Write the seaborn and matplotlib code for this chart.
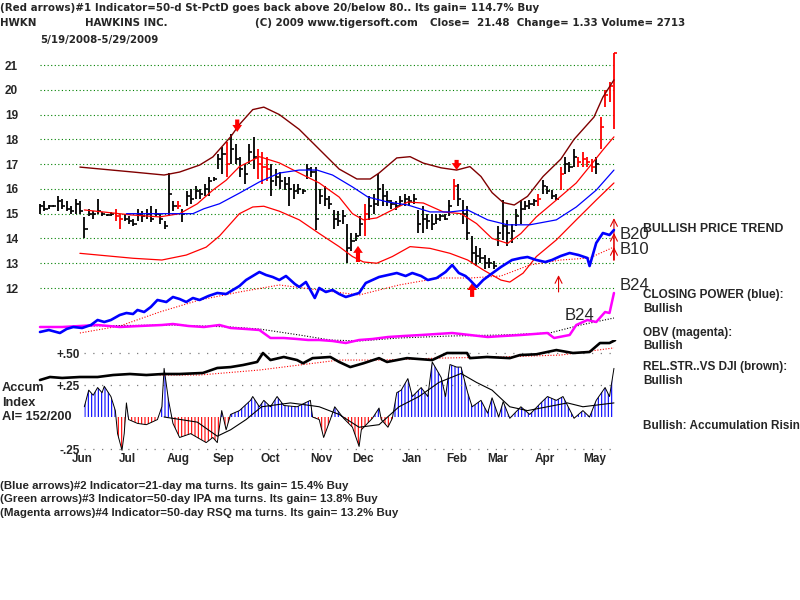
import numpy as np
import matplotlib
matplotlib.use("Agg")
import matplotlib.pyplot as plt
import seaborn as sns

# ---- data (x = trading day since 5/19/2008) ----
bar_high = [15.4, 15.5, 15.35, 15.35, 15.7, 15.6, 15.5, 15.3, 15.6, 15.5,
            14.85, 15.2, 15.1, 15.6, 15.05, 15.0, 15.05, 15.2, 15.0, 15.0,
            14.9, 14.8, 15.2, 15.1, 15.2, 15.3, 15.2, 15.0, 14.7, 16.65,
            15.5, 15.5, 15.2, 15.9, 16.0, 16.1, 16.0, 16.2, 16.5, 16.5,
            17.4, 17.7, 17.9, 18.2, 17.8, 17.3, 17.0, 17.8, 18.1, 17.6,
            17.5, 17.3, 17.0, 16.8, 16.7, 16.5, 16.5, 16.2, 16.2, 16.0,
            17.0, 16.9, 16.9, 16.0, 16.1, 15.7, 15.15, 15.1, 15.15, 14.6,
            14.2, 14.2, 14.9, 15.4, 15.7, 15.8, 16.6, 16.2, 15.9, 15.55,
            15.5, 15.7, 15.8, 15.7, 15.8, 15.15, 15.3, 15.0, 15.0, 15.0,
            15.0, 15.0, 15.55, 16.4, 16.2, 15.55, 15.3, 14.1, 13.7, 13.6,
            13.35, 13.2, 13.1, 14.5, 15.55, 14.75, 14.6, 15.2, 15.55, 15.5,
            15.55, 15.6, 15.8, 16.35, 16.1, 15.95, 15.8, 16.9, 17.3, 17.1,
            17.6, 17.3, 17.5, 17.3, 17.2, 17.3, 18.9, 20.0, 20.3, 21.5]
bar_low = [15.0, 15.1, 15.2, 15.25, 15.1, 15.2, 15.1, 15.0, 15.0, 15.0,
           14.0, 14.9, 14.8, 15.0, 14.9, 14.9, 14.9, 14.7, 14.4, 14.7,
           14.6, 14.5, 14.7, 14.65, 14.8, 14.65, 14.9, 14.6, 14.4, 14.9,
           15.1, 15.2, 14.65, 15.3, 15.4, 15.6, 15.6, 15.7, 15.7, 16.3,
           16.8, 16.6, 16.5, 17.0, 17.0, 16.5, 16.2, 17.0, 16.8, 16.4,
           16.2, 16.3, 15.7, 16.1, 16.0, 15.95, 15.3, 15.6, 15.8, 15.8,
           16.4, 16.5, 14.35, 15.4, 15.3, 15.2, 14.4, 14.5, 14.6, 13.0,
           13.5, 13.9, 14.1, 14.1, 14.75, 15.0, 15.3, 15.3, 15.3, 15.2,
           15.15, 15.3, 15.3, 15.3, 15.4, 14.2, 14.2, 14.4, 14.35, 14.6,
           14.7, 14.75, 14.9, 15.55, 15.3, 14.6, 13.95, 13.0, 12.9, 13.0,
           12.75, 12.8, 12.75, 13.7, 13.95, 13.7, 13.8, 14.5, 14.6, 15.15,
           15.2, 15.3, 15.3, 15.8, 15.8, 15.6, 15.55, 15.95, 16.6, 16.7,
           16.9, 16.9, 16.9, 16.9, 16.7, 16.6, 17.6, 19.3, 19.5, 18.4]
bar_close = [15.3, 15.2, 15.3, 15.3, 15.5, 15.3, 15.2, 15.1, 15.4, 15.1,
             14.4, 15.0, 15.0, 15.1, 15.0, 14.95, 15.0, 14.9, 14.8, 14.8,
             14.7, 14.6, 15.0, 14.9, 15.0, 14.8, 15.0, 14.8, 14.5, 15.8,
             15.3, 15.3, 15.0, 15.7, 15.6, 15.9, 15.8, 16.0, 16.3, 16.4,
             17.2, 17.4, 17.0, 17.6, 17.2, 16.8, 16.6, 17.5, 17.3, 17.0,
             16.9, 16.8, 16.3, 16.5, 16.3, 16.2, 16.0, 15.9, 16.0, 15.9,
             16.8, 16.7, 14.8, 15.7, 15.6, 15.4, 14.8, 14.7, 14.9, 13.6,
             13.9, 14.1, 14.6, 15.0, 15.3, 15.4, 16.0, 15.7, 15.5, 15.4,
             15.3, 15.5, 15.6, 15.5, 15.6, 14.6, 14.8, 14.7, 14.6, 14.8,
             14.9, 14.8, 15.3, 16.1, 15.6, 15.0, 14.2, 13.4, 13.3, 13.2,
             13.0, 13.0, 12.9, 14.2, 14.5, 14.2, 14.3, 14.9, 15.2, 15.3,
             15.4, 15.5, 15.6, 16.1, 15.9, 15.7, 15.6, 16.6, 17.0, 16.9,
             17.3, 17.1, 17.2, 17.1, 16.9, 17.0, 18.5, 19.8, 20.15, 21.48]
red_bars = [17, 18, 31, 42, 49, 50, 51, 73, 93, 112, 117,
            121, 122, 123, 124, 126, 127, 128, 129]

upper_days = [18, 42, 56, 63, 72, 78, 86, 90, 96, 101, 108, 117, 126, 135, 143, 149, 153,
              161, 167, 173, 181, 188, 194, 199, 204, 209, 214, 220, 227, 235, 241, 250, 254, 259]
upper_vals = [16.88, 16.68, 16.56, 16.68, 16.96, 17.29, 18.1, 18.6, 19.2, 19.3, 19.0, 18.4, 17.6,
              16.8, 16.4, 16.4, 16.64, 17.25, 17.3, 17.04, 16.85, 16.76, 16.9, 16.5, 15.85, 15.45,
              15.35, 15.7, 16.5, 17.2, 18.0, 18.9, 19.7, 20.4]
mid_days = [20, 41, 54, 63, 71, 78, 84, 90, 99, 108, 117, 126, 135, 141, 146, 152, 159, 166,
            173, 182, 190, 197, 204, 211, 217, 224, 233, 242, 248, 254, 259]
mid_vals = [15.15, 14.95, 14.87, 15.0, 15.4, 15.95, 16.35, 16.9, 17.3, 17.05, 16.64, 16.24, 15.67,
            15.0, 14.75, 14.83, 15.15, 15.47, 15.43, 15.07, 15.0, 14.6, 14.0, 13.8, 14.2, 14.87,
            15.55, 16.24, 16.9, 17.57, 18.1]
low_days = [18, 42, 55, 66, 75, 81, 86, 90, 96, 101, 108, 117, 126, 135, 141, 146, 152, 159,
            167, 176, 185, 193, 200, 208, 212, 218, 224, 233, 242, 251, 259]
low_vals = [13.4, 13.2, 13.13, 13.33, 13.65, 14.1, 14.6, 15.0, 15.27, 15.3, 15.1, 14.75, 14.2,
            13.67, 13.27, 13.05, 13.0, 13.27, 13.67, 13.6, 13.4, 13.13, 12.73, 12.32, 12.24, 12.6,
            13.27, 13.94, 14.75, 15.55, 16.24]
ma50_days = [39, 69, 74, 81, 90, 99, 108, 117, 125, 132, 141, 148, 157, 166, 176, 185, 193,
             202, 211, 221, 233, 242, 251, 259]
ma50_vals = [15.0, 15.0, 15.2, 15.4, 15.83, 16.28, 16.64, 16.76, 16.76, 16.56, 16.08, 15.67,
             15.47, 15.35, 15.07, 15.07, 15.15, 14.75, 14.55, 14.55, 14.75, 15.27, 15.95, 16.76]

cp_days = [0, 4, 9, 12, 15, 19, 23, 26, 29, 32, 36, 39, 42, 44, 47, 50, 53, 57, 60, 63,
           66, 69, 72, 76, 80, 84, 87, 90, 93, 96, 99, 102, 105, 108, 111, 113, 115, 117, 120, 122,
           124, 126, 129, 132, 135, 138, 141, 144, 147, 150, 153, 157, 161, 165, 168, 172, 175, 179,
           183, 186, 189, 192, 194, 197, 200, 203, 208, 213, 217, 220, 224, 228, 231, 235, 239, 243,
           247, 248, 251, 254, 257, 259]
cp_vals = [18, 20, 17, 21, 23, 22, 25, 30, 28, 30, 35, 37, 36, 40, 38, 43, 50, 48, 53, 51,
           48, 52, 50, 54, 57, 56, 60, 64, 70, 74, 78, 75, 73, 70, 74, 70, 66, 63, 68, 60,
           52, 62, 58, 60, 56, 53, 55, 57, 67, 70, 73, 75, 77, 74, 77, 74, 70, 72,
           78, 85, 77, 74, 70, 63, 70, 75, 83, 90, 92, 93, 90, 88, 90, 94, 97, 95,
           92, 84, 107, 117, 115, 120]
cp_ma_days = [18, 36, 54, 72, 90, 108, 126, 144, 162, 180, 194, 208, 221, 235, 248, 259]
cp_ma_vals = [17, 24, 38, 50, 58, 65, 60, 55, 65, 72, 72, 74, 85, 90, 92, 103]

obv_days = [0, 10, 18, 26, 36, 45, 55, 60, 67, 74, 81, 86, 93, 99, 104, 110, 116, 121, 126, 132,
            138, 144, 150, 157, 164, 172, 179, 186, 194, 202, 209, 217, 223, 229, 232, 239, 242,
            247, 251, 255, 257, 259]
obv_vals = [23, 23, 24, 25, 23, 24, 25, 26, 24, 23, 25, 22, 21, 20, 12, 12, 11, 10, 10, 9,
            7, 10, 11, 13, 14, 15, 16, 17, 15, 13, 14, 15, 16, 17, 12, 15, 25, 30, 28, 38, 37, 57]
obv_ma_days = [18, 60, 86, 99, 117, 131, 144, 162, 185, 208, 230, 244, 259]
obv_ma_vals = [24, 25, 23, 21, 15, 10, 9, 12, 14, 15, 17, 25, 32]

rs_days = [0, 4.5, 10, 18, 26, 33, 40.6, 48, 55.5, 63, 73.5, 80, 86, 91.6, 98, 100.6, 104, 110,
           116, 118.7, 123, 131, 135, 140, 146, 153, 156.6, 165.6, 177, 183.7, 192.7, 194, 201.7,
           212, 216.6, 224, 233, 240.5, 248, 252.7, 257, 259.5]
rs_vals = [0.289, 0.3125, 0.305, 0.3125, 0.3125, 0.328, 0.336, 0.328, 0.336, 0.336, 0.344, 0.383,
           0.39, 0.406, 0.43, 0.5, 0.445, 0.469, 0.445, 0.42, 0.46, 0.469, 0.43, 0.39, 0.42, 0.46,
           0.43, 0.46, 0.445, 0.5, 0.5, 0.46, 0.469, 0.46, 0.484, 0.49, 0.523, 0.5, 0.508, 0.578,
           0.578, 0.6]
rs_ma_days = [54, 72, 99, 117, 135, 153, 180, 208, 235, 259]
rs_ma_vals = [0.328, 0.328, 0.367, 0.406, 0.445, 0.445, 0.46, 0.469, 0.484, 0.54]

ai_days = [20, 22, 24, 26, 28, 29, 32, 34, 35, 37, 38, 39, 40, 44, 48, 53, 55, 56, 58, 60,
           63, 68, 71, 75, 78, 80, 82, 84, 86, 90, 95, 96, 99, 101, 104, 107, 110, 116, 122, 123,
           126, 128, 131, 133, 137, 141, 144, 145, 150, 153, 154, 157, 159, 161, 163, 166, 168, 172,
           175, 177, 181, 183, 185, 188, 190, 193, 195, 199, 202, 204, 207, 209, 212, 217, 221, 226,
           229, 233, 236, 241, 245, 248, 251, 255, 257, 259]
ai_vals = [0.08, 0.21, 0.17, 0.23, 0.19, 0.24, 0.16, 0.05, -0.13, -0.26, -0.13, 0.11, -0.02, -0.05,
           -0.06, -0.02, 0.08, 0.38, 0.13, -0.05, -0.16, -0.13, -0.16, -0.2, -0.16, -0.2, 0.05, -0.1,
           0.02, 0.05, 0.13, 0.16, 0.08, 0.13, 0.08, 0.16, 0.09, 0.08, 0.13, 0.0, -0.02, -0.16, -0.02,
           0.08, -0.01, -0.08, -0.23, -0.1, -0.01, 0.07, -0.02, -0.08, -0.01, 0.19, 0.21, 0.3, 0.16,
           0.23, 0.16, 0.43, 0.31, 0.16, 0.41, 0.39, 0.39, 0.19, 0.08, 0.13, 0.03, 0.15, 0.0, 0.12,
           -0.01, 0.08, 0.02, 0.11, 0.16, 0.13, 0.16, -0.01, 0.05, 0.0, 0.13, 0.23, 0.16, 0.38]
aima_days = [56, 71, 80, 86, 93, 100, 113, 122, 126, 135, 144, 153, 162, 171, 180, 190, 197,
             204, 212, 220, 229, 238, 245, 259]
aima_vals = [0.0, -0.04, -0.15, -0.10, -0.02, 0.08, 0.11, 0.09, 0.08, 0.02, -0.08, -0.06, 0.08,
             0.16, 0.27, 0.34, 0.27, 0.21, 0.08, 0.05, 0.08, 0.11, 0.08, 0.11]

# signal arrows: day, start price, tip price
big_arrow_day = [89, 143.5, 188, 195]
big_arrow_from = [18.8, 13.05, 17.17, 11.64]
big_arrow_to = [18.3, 13.7, 16.76, 12.2]
thin_arrow_day = [234, 259, 259, 259]
thin_arrow_from = [11.84, 13.13, 13.13, 13.13]
thin_arrow_to = [12.52, 14.82, 14.22, 13.65]

price_ticks = [12, 13, 14, 15, 16, 17, 18, 19, 20, 21]
ai_ticks = [0.5, 0.25, -0.25]
ai_tick_labels = ["+.50", "+.25", "-.25"]
month_names = ["Jun", "Jul", "Aug", "Sep", "Oct", "Nov", "Dec", "Jan", "Feb", "Mar", "Apr", "May"]
month_days = [19, 39.3, 62.3, 83, 103.8, 127, 146, 168, 188, 206.7, 228, 250.5]

# ---- figure ----
sns.set_style("white")
plt.rcParams["font.family"] = ["Liberation Sans", "DejaVu Sans"]
plt.rcParams["hatch.linewidth"] = 0.8

fig = plt.figure(figsize=(8, 6), dpi=100)
XL = (-4.51, 261.73)
LEFT, WIDTH = 30 / 800, 590 / 800

ax = fig.add_axes([LEFT, 0.5, WIDTH, 260 / 600])
ax3 = fig.add_axes([LEFT, 148 / 600, WIDTH, 112 / 600])
ax2 = fig.add_axes([LEFT, 250 / 600, WIDTH, 130 / 600])
for a in (ax, ax2, ax3):
    a.set_xlim(*XL)
    a.patch.set_alpha(0)
    sns.despine(ax=a, left=True, bottom=True)
ax.set_ylim(11.516, 22.009)
ax2.set_ylim(0, 130)
ax3.set_ylim(-0.2734, 0.6016)

# price panel
ax.hlines(price_ticks, 0, upper_days[-1], colors="#008000", linestyles=(0, (1, 2.2)), lw=0.8)
n = len(bar_high)
bar_days = np.linspace(0, 259, n)
bar_colors = ["#ff0000" if i in red_bars else "black" for i in range(n)]
ax.vlines(bar_days, bar_low, bar_high, colors=bar_colors, lw=1.3)
ax.hlines(bar_close, bar_days, bar_days + 1.4, colors=bar_colors, lw=1.2)

sns.lineplot(x=upper_days, y=upper_vals, ax=ax, color="#800000", lw=1.0, sort=False, estimator=None)
sns.lineplot(x=mid_days, y=mid_vals, ax=ax, color="#ff0000", lw=0.9, sort=False, estimator=None)
sns.lineplot(x=low_days, y=low_vals, ax=ax, color="#ff0000", lw=0.9, sort=False, estimator=None)
sns.lineplot(x=ma50_days, y=ma50_vals, ax=ax, color="#0000ff", lw=0.9, sort=False, estimator=None)

for d, y0, y1 in zip(big_arrow_day, big_arrow_from, big_arrow_to):
    ax.annotate("", xy=(d, y1), xytext=(d, y0),
                arrowprops=dict(arrowstyle="simple,head_width=0.7,head_length=0.5,tail_width=0.3",
                                color="#ff0000", lw=0, shrinkA=0, shrinkB=0))
for d, y0, y1 in zip(thin_arrow_day, thin_arrow_from, thin_arrow_to):
    ax.annotate("", xy=(d, y1), xytext=(d, y0),
                arrowprops=dict(arrowstyle="->,head_width=0.25,head_length=0.5",
                                color="#e00000", lw=0.8, shrinkA=0, shrinkB=0))

ax.set_xticks([])
ax.set_yticks(price_ticks, [str(t) for t in price_ticks])
ax.tick_params(axis="y", length=0, pad=8.6, labelsize=8.5)
for lab in ax.get_yticklabels():
    lab.set_fontweight("bold")

# closing power / OBV
sns.lineplot(x=cp_ma_days, y=cp_ma_vals, ax=ax2, color="#ff0000", lw=0.8,
             linestyle=(0, (1, 1.5)), sort=False, estimator=None)
sns.lineplot(x=obv_ma_days, y=obv_ma_vals, ax=ax2, color="black", lw=0.8,
             linestyle=(0, (1, 1.5)), sort=False, estimator=None)
sns.lineplot(x=obv_days, y=obv_vals, ax=ax2, color="#ff00ff", lw=1.8, sort=False, estimator=None)
sns.lineplot(x=cp_days, y=cp_vals, ax=ax2, color="#0000ff", lw=1.9, sort=False, estimator=None)
ax2.set_xticks([])
ax2.set_yticks([])

# accumulation index + relative strength
ax3.hlines(ai_ticks, ai_days[0], ai_days[-1], colors="#7a7a7a", linestyles=(0, (1, 6)), lw=0.9)
ai = np.array(ai_vals)
ax3.fill_between(ai_days, 0, ai, where=ai >= 0, interpolate=True, facecolor="none",
                 edgecolor="#0000ff", hatch="|||||", lw=0)
ax3.fill_between(ai_days, 0, ai, where=ai <= 0, interpolate=True, facecolor="none",
                 edgecolor="#ff0000", hatch="|||||", lw=0)
sns.lineplot(x=ai_days, y=ai_vals, ax=ax3, color="black", lw=0.7, sort=False, estimator=None)
sns.lineplot(x=aima_days, y=aima_vals, ax=ax3, color="black", lw=0.8, sort=False, estimator=None)
sns.lineplot(x=rs_ma_days, y=rs_ma_vals, ax=ax3, color="#ff0000", lw=0.8,
             linestyle=(0, (1, 1.5)), sort=False, estimator=None)
sns.lineplot(x=rs_days, y=rs_vals, ax=ax3, color="black", lw=1.9, sort=False, estimator=None)
ax3.set_yticks(ai_ticks, ai_tick_labels)
ax3.tick_params(axis="y", length=0, pad=-36, labelsize=8.5)
ax3.set_xticks(month_days, month_names)
ax3.tick_params(axis="x", length=0, pad=1, labelsize=8.5)
for lab in ax3.get_yticklabels() + ax3.get_xticklabels():
    lab.set_fontweight("bold")
for a in (ax, ax2, ax3):
    a.set_xlabel("")
    a.set_ylabel("")

# ---- texts ----
renderer = fig.canvas.get_renderer()


def fit(t, px):
    w = t.get_window_extent(renderer).width
    t.set_fontsize(t.get_fontsize() * px / w)
    return t.get_fontsize()


def ftext(px, py, s, **kw):
    return fig.text(px / 800, 1 - py / 600, s, va="center", ha="left", **kw)


head_font = ["Liberation Sans Narrow", "DejaVu Sans"]
h1 = ftext(0, 8, "(Red arrows)#1 Indicator=50-d St-PctD goes back above 20/below 80.. "
           "Its gain= 114.7% Buy", family=head_font, fontweight="bold", fontsize=9)
hs = fit(h1, 537)
ftext(0, 23, "HWKN", family=head_font, fontweight="bold", fontsize=hs)
ftext(85, 23, "HAWKINS INC.", family=head_font, fontweight="bold", fontsize=hs)
ftext(255, 23, "(C) 2009 www.tigersoft.com", family=head_font, fontweight="bold", fontsize=hs)
ftext(430, 23, "Close=  21.48  Change= 1.33 Volume= 2713", family=head_font,
      fontweight="bold", fontsize=hs)
ftext(40, 40, "5/19/2008-5/29/2009", family=head_font, fontweight="bold", fontsize=hs)

b1 = ftext(0, 486, "(Blue arrows)#2 Indicator=21-day ma turns. Its gain= 15.4% Buy",
           fontweight="bold", fontsize=8)
bs = fit(b1, 348)
ftext(0, 499, "(Green arrows)#3 Indicator=50-day IPA ma turns. Its gain= 13.8% Buy",
      fontweight="bold", fontsize=bs)
ftext(0, 513, "(Magenta arrows)#4 Indicator=50-day RSQ ma turns. Its gain= 13.2% Buy",
      fontweight="bold", fontsize=bs)

r1 = ftext(643, 295, "CLOSING POWER (blue):", fontweight="bold", fontsize=8)
rsz = fit(r1, 141)
for py, s in [(309, "Bullish"), (333, "OBV (magenta):"), (346, "Bullish"),
              (367, "REL.STR..VS DJI (brown):"), (381, "Bullish"),
              (426, "Bullish: Accumulation Rising")]:
    ftext(643, py, s, fontweight="bold", fontsize=rsz)
t = ftext(643, 229, "BULLISH PRICE TREND", fontweight="bold", fontsize=8)
fit(t, 139)

a1 = ftext(2, 417, "AI= 152/200", fontweight="bold", fontsize=9)
asz = fit(a1, 70)
ftext(2, 388, "Accum", fontweight="bold", fontsize=asz)
ftext(2, 403, "Index", fontweight="bold", fontsize=asz)

for px, py, s in [(620, 235, "B20"), (620, 249, "B10"), (620, 285, "B24"), (565, 316, "B24")]:
    ftext(px, py, s, fontsize=12)

fig.savefig("out.png", dpi=100, facecolor="white")
